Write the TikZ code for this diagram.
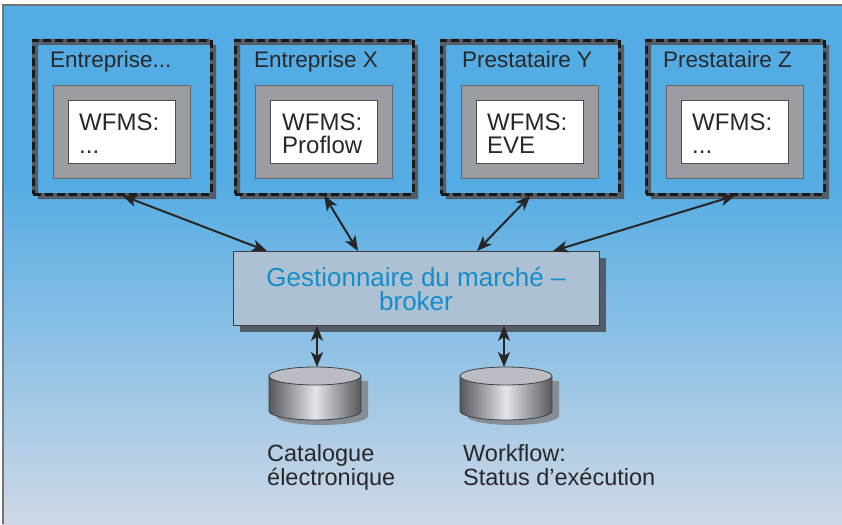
\documentclass[tikz,border=0pt]{standalone}
\usepackage{fontspec}
\setmainfont{Liberation Sans}
\usetikzlibrary{arrows.meta}

\definecolor{bgtop}{RGB}{84,172,228}
\definecolor{bgbot}{RGB}{206,216,230}
\definecolor{shadowgray}{RGB}{84,92,104}
\definecolor{wfmsgray}{RGB}{156,157,162}
\definecolor{brokerfill}{RGB}{172,194,212}
\definecolor{brokertext}{RGB}{22,140,200}
\definecolor{cyldark}{RGB}{86,88,92}
\definecolor{cyllight}{RGB}{226,230,234}
\definecolor{cyltop}{RGB}{186,190,196}
\definecolor{textgray}{RGB}{40,40,40}

\tikzset{
  zone/.style={draw=black!90, line width=2.6pt, dash pattern=on 8pt off 4pt,
    minimum width=178pt, minimum height=154pt, anchor=north west, inner sep=0pt},
  ztitle/.style={anchor=base west, inner sep=0pt, text=textgray,
    font=\fontsize{22.5}{24}\selectfont},
  wfmsbox/.style={draw=black!60, fill=wfmsgray, line width=0.8pt,
    minimum width=137pt, minimum height=93pt, anchor=north west, inner sep=0pt},
  wfmsin/.style={draw=black!70, fill=white, line width=0.8pt,
    minimum width=107pt, minimum height=63pt, anchor=north west, inner sep=0pt},
  wfmstext/.style={anchor=base west, align=left, inner sep=0pt, text=textgray,
    font=\fontsize{24}{23}\selectfont},
  link/.style={{Stealth[length=15pt,width=12pt,inset=4pt]}-{Stealth[length=15pt,width=12pt,inset=4pt]},
    line width=2pt, black!85},
  dblabel/.style={anchor=base west, align=left, inner sep=0pt, text=textgray,
    font=\fontsize{23.5}{23.5}\selectfont}
}

\begin{document}
\begin{tikzpicture}[x=1pt, y=-1pt]

    \useasboundingbox (0,0) rectangle (842,524);
    \fill[white] (0,0) rectangle (842,524);
    \fill[bgtop] (3,5) rectangle (842,181);
    \shade[top color=bgtop, bottom color=bgbot] (3,180) rectangle (842,524);
    \draw[black!55, line width=1.2pt] (3,524) -- (3,5) -- (842,5);

    % enterprises and providers
    \fill[shadowgray, even odd rule] (38,45) rectangle (216,199) (32,39) rectangle (210,193);
    \node[zone] (ent1) at (32,39) {};
    \node[ztitle] (ent1t) at (50,68) {Entreprise...};
    \node[wfmsbox] (ent1g) at (53,85) {};
    \node[wfmsin] (ent1w) at (68,100) {};
    \node[wfmstext] (ent1x) at (79,153) {WFMS:\\...};

    \fill[shadowgray, even odd rule] (240,45) rectangle (418,199) (234,39) rectangle (412,193);
    \node[zone] (ent2) at (234,39) {};
    \node[ztitle] (ent2t) at (254,68) {Entreprise X};
    \node[wfmsbox] (ent2g) at (255,85) {};
    \node[wfmsin] (ent2w) at (270,100) {};
    \node[wfmstext] (ent2x) at (282,153) {WFMS:\\Proflow};

    \fill[shadowgray, even odd rule] (446,45) rectangle (624,199) (440,39) rectangle (618,193);
    \node[zone] (pre1) at (440,39) {};
    \node[ztitle] (pre1t) at (462,68) {Prestataire Y};
    \node[wfmsbox] (pre1g) at (461,85) {};
    \node[wfmsin] (pre1w) at (476,100) {};
    \node[wfmstext] (pre1x) at (487,153) {WFMS:\\EVE};

    \fill[shadowgray, even odd rule] (651,45) rectangle (829,199) (645,39) rectangle (823,193);
    \node[zone] (pre2) at (645,39) {};
    \node[ztitle] (pre2t) at (663,68) {Prestataire Z};
    \node[wfmsbox] (pre2g) at (666,85) {};
    \node[wfmsin] (pre2w) at (681,100) {};
    \node[wfmstext] (pre2x) at (692,153) {WFMS:\\...};

    % broker
    \fill[shadowgray] (240,258) rectangle (606,332);
    \node[draw=black!75, fill=brokerfill, line width=0.8pt, minimum width=366pt,
      minimum height=74pt, anchor=north west, inner sep=0pt] (broker) at (233,251) {};
    \node[anchor=base, align=center, inner sep=0pt, text=brokertext,
      font=\fontsize{26}{23.5}\selectfont] (brokert) at (416,310)
      {Gestionnaire du marché --\\broker};

    \draw[link] (ent1.south) -- ([xshift=34pt]broker.north west);
    \draw[link] (ent2.south) -- ([xshift=125pt]broker.north west);
    \draw[link] (pre1.south) -- ([xshift=244pt]broker.north west);
    \draw[link] (pre2.south) -- ([xshift=320pt]broker.north west);

    % databases
    \coordinate (cat) at (317,367);
    \fill[shadowgray!70] (276,381) -- (276,416) arc[start angle=180, end angle=0, x radius=46, y radius=9] -- (368,381) -- cycle;
    \shade[left color=cyldark, right color=cyldark, middle color=cyllight, draw=black!75, line width=0.8pt]
      (269,376) -- (269,411) arc[start angle=180, end angle=0, x radius=46, y radius=9] -- (361,376) -- cycle;
    \draw[fill=cyltop, draw=black!75, line width=0.8pt] (315,376) ellipse[x radius=46, y radius=9];

    \coordinate (wfl) at (504,367);
    \fill[shadowgray!70] (467,381) -- (467,416) arc[start angle=180, end angle=0, x radius=46, y radius=9] -- (559,381) -- cycle;
    \shade[left color=cyldark, right color=cyldark, middle color=cyllight, draw=black!75, line width=0.8pt]
      (460,376) -- (460,411) arc[start angle=180, end angle=0, x radius=46, y radius=9] -- (552,376) -- cycle;
    \draw[fill=cyltop, draw=black!75, line width=0.8pt] (506,376) ellipse[x radius=46, y radius=9];

    \draw[link] (broker.south -| cat) -- (cat);
    \draw[link] (broker.south -| wfl) -- (wfl);

    \node[dblabel] (catt) at (267,485) {Catalogue\\électronique};
    \node[dblabel] (wflt) at (463,485) {Workflow:\\Status d’exécution};

\end{tikzpicture}
\end{document}
